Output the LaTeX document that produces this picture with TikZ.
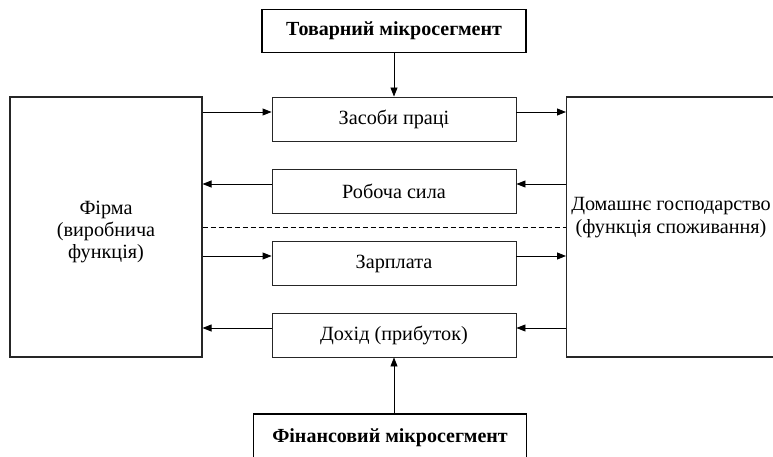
\documentclass[tikz,border=0pt]{standalone}
\usepackage{fontspec}
\setmainfont{Liberation Serif}
\usetikzlibrary{arrows.meta}
\begin{document}
\begin{tikzpicture}[x=1pt,y=1pt,
  txt/.style={font=\fontsize{20.2}{23}\selectfont, align=center},
  flowbox/.style={draw=black!85, line width=0.9pt, minimum width=244pt, minimum height=44pt, inner sep=0pt, txt},
  segbox/.style={draw=black, line width=1.8pt, inner sep=0pt, font=\bfseries\fontsize{20}{23}\selectfont},
  sidebox/.style={draw=black!85, line width=1.1pt, inner sep=0pt},
  flow/.style={-{Triangle[length=9pt,width=7pt]}, line width=0.9pt}]
\useasboundingbox (0,0) rectangle (773,456);
\clip (0,0) rectangle (773,456);
% segment boxes
\node[segbox, minimum width=264pt, minimum height=43pt] (top) at (394,425) {Товарний мікросегмент};
\node[segbox, minimum width=273pt, minimum height=48pt] (bot) at (390,18) {Фінансовий мікросегмент};
% flow boxes
\node[flowbox] (z1) at (394,337) {Засоби праці};
\node[flowbox] (z2) at (394,265) {Робоча сила};
\node[flowbox] (z3) at (394,192.5) {Зарплата};
\node[flowbox] (z4) at (394,121) {Дохід (прибуток)};
% firm and household
\node[sidebox, minimum width=192pt, minimum height=260pt] (firm) at (106,229) {};
\node[txt, font=\fontsize{20.2}{21.7}\selectfont] (firmt) at (106,224) {Фірма\\(виробнича\\функція)};
\node[sidebox, minimum width=214pt, minimum height=260pt, anchor=west] (home) at (566,229) {};
\node[txt] (homet) at (671,238) {Домашнє господарство\\(функція споживання)};
% vertical links
\draw[flow] (top.south) -- (z1.north);
\draw[flow] (bot.north -| z4.south) -- (z4.south);
% horizontal flows
\draw[flow] (firm.east |- 0,344) -- (z1.west |- 0,344);
\draw[flow] (z1.east |- 0,344) -- (home.west |- 0,344);
\draw[flow] (home.west |- 0,272) -- (z2.east |- 0,272);
\draw[flow] (z2.west |- 0,272) -- (firm.east |- 0,272);
\draw[flow] (firm.east |- 0,200) -- (z3.west |- 0,200);
\draw[flow] (z3.east |- 0,200) -- (home.west |- 0,200);
\draw[flow] (home.west |- 0,128) -- (z4.east |- 0,128);
\draw[flow] (z4.west |- 0,128) -- (firm.east |- 0,128);
% dividing line
\draw[dashed, line width=0.8pt, dash pattern=on 5pt off 3pt] (firm.east |- 0,229) -- (home.west |- 0,229);
\end{tikzpicture}
\end{document}
